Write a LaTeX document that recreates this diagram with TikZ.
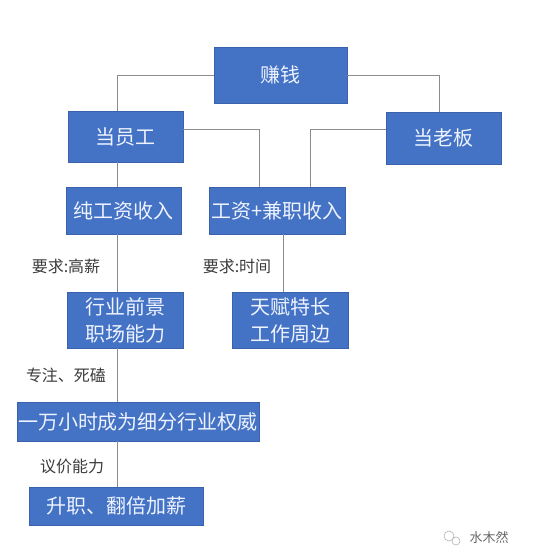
\documentclass[tikz,border=0pt]{standalone}
\usepackage{fontspec}
\setmainfont{Noto Sans CJK SC}
\definecolor{boxblue}{HTML}{4472C4}
\definecolor{boxedge}{HTML}{3A62AC}
\definecolor{boxtext}{HTML}{EEF3FF}
\definecolor{linegray}{HTML}{8C8C8C}
\definecolor{labgray}{HTML}{3C3C3C}
\begin{document}
\begin{tikzpicture}[x=1pt,y=-1pt,
  box/.style={draw=boxedge,line width=0.6pt,fill=boxblue,text=boxtext,inner sep=0pt,
    font=\fontsize{20}{27}\selectfont,align=center},
  lab/.style={text=labgray,inner sep=0pt,font=\fontsize{16}{20}\selectfont},
  conn/.style={draw=linegray,line width=1pt}]
\useasboundingbox[fill=white] (0,0) rectangle (535,560);
% boxes
\node[box,minimum width=133pt,minimum height=56pt] (top) at (280.5,75) {赚钱};
\node[box,minimum width=115pt,minimum height=51pt] (yg) at (125.5,136.5) {当员工};
\node[box,minimum width=115pt,minimum height=52pt] (lb) at (443.5,138) {当老板};
\node[box,minimum width=115pt,minimum height=47pt] (cg) at (123.5,210.5) {纯工资收入};
\node[box,minimum width=136pt,minimum height=47pt] (jz) at (277,210.5) {工资+兼职收入};
\node[box,minimum width=116pt,minimum height=56pt] (hy) at (125,320) {行业前景\\职场能力};
\node[box,minimum width=116pt,minimum height=56pt] (tf) at (290,320) {天赋特长\\工作周边};
\node[box,minimum width=242pt,minimum height=39pt] (wan) at (138,421.5) {一万小时成为细分行业权威};
\node[box,minimum width=174pt,minimum height=38pt] (sz) at (116,506) {升职、翻倍加薪};
% x positions of the vertical runs
\coordinate (xL) at (117,0);
\coordinate (xR) at (439,0);
\coordinate (xM1) at (259,0);
\coordinate (xM2) at (310,0);
\coordinate (xT) at (283,0);
\coordinate (yJ) at (0,129);
% connectors
\begin{scope}[on background layer/.style={}]
\draw[conn] (top.west) -| (yg.north -| xL);
\draw[conn] (top.east) -| (lb.north -| xR);
\draw[conn] (yg.east |- yJ) -| (jz.north -| xM1);
\draw[conn] (lb.west |- yJ) -| (jz.north -| xM2);
\draw[conn] (yg.south -| xL) -- (cg.north -| xL);
\draw[conn] (cg.south -| xL) -- (hy.north -| xL);
\draw[conn] (jz.south -| xT) -- (tf.north -| xT);
\draw[conn] (hy.south -| xL) -- (wan.north -| xL);
\draw[conn] (wan.south -| xL) -- (sz.north -| xL);
\end{scope}
% labels
\node[lab] (l1) at (66,266) {要求:高薪};
\node[lab] (l2) at (237,266) {要求:时间};
\node[lab] (l3) at (66,375) {专注、死磕};
\node[lab] (l4) at (72,466) {议价能力};
% watermark
\draw[gray!60,line width=0.6pt] (449,536) circle (5pt);
\draw[gray!60,line width=0.6pt] (456,541) circle (4pt);
\node[text=gray!80!black,inner sep=0pt,font=\fontsize{13}{15}\selectfont] (wm) at (489,538) {水木然};
\end{tikzpicture}
\end{document}
